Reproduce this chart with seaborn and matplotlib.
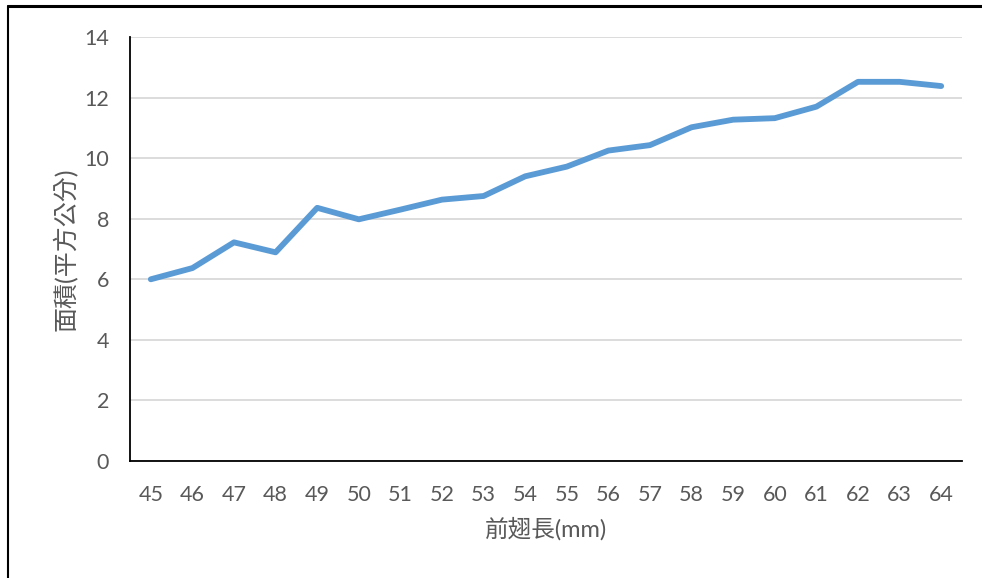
import matplotlib
matplotlib.use("Agg")
import matplotlib.pyplot as plt
from matplotlib.lines import Line2D
import seaborn as sns
import pandas as pd

# Forewing length (mm) vs. wing area
wing_length_mm = [45, 46, 47, 48, 49, 50, 51, 52, 53, 54,
                  55, 56, 57, 58, 59, 60, 61, 62, 63, 64]
wing_area = [6.00, 6.37, 7.22, 6.89, 8.36, 7.98, 8.30, 8.63, 8.75, 9.40,
             9.72, 10.25, 10.43, 11.02, 11.27, 11.32, 11.70, 12.52, 12.52, 12.38]
y_ticks = [0, 2, 4, 6, 8, 10, 12, 14]

sns.set_style("white")
plt.rcParams["font.family"] = ["Lato", "Noto Sans CJK TC", "DejaVu Sans"]

df = pd.DataFrame({"length": [str(v) for v in wing_length_mm], "area": wing_area})

fig = plt.figure(figsize=(9.82, 5.78), dpi=100)
ax = fig.add_axes([130 / 982, 1 - 461 / 578, 832 / 982, 424 / 578])

sns.lineplot(data=df, x="length", y="area", ax=ax, color="#5B9BD5",
             linewidth=4.2, sort=False)
for ln in ax.get_lines():
    ln.set_solid_capstyle("round")
    ln.set_solid_joinstyle("round")

ax.set_xlim(-0.5, len(wing_length_mm) - 0.5)
ax.set_ylim(0, 14)
ax.set_yticks(y_ticks)
ax.set_yticklabels([str(t) for t in y_ticks])
ax.yaxis.grid(True, color="#D9D9D9", linewidth=1.3)
ax.xaxis.grid(False)
ax.set_axisbelow(True)

for side in ("top", "right"):
    ax.spines[side].set_visible(False)
for side in ("left", "bottom"):
    ax.spines[side].set_color("black")
    ax.spines[side].set_linewidth(1.3)

ax.tick_params(axis="both", length=0, labelsize=15.5, labelcolor="#595959")
ax.tick_params(axis="y", pad=15)
ax.tick_params(axis="x", pad=17)

ax.set_xlabel("前翅長(mm)", fontsize=17, color="#595959", labelpad=9)
ax.set_ylabel("面積(平方公分)", fontsize=18, color="#595959", labelpad=5)

# chart frame (left and top edges)
fig.add_artist(Line2D([8 / 982, 8 / 982], [0, 1 - 6 / 578], color="black",
                      linewidth=1.5, transform=fig.transFigure))
fig.add_artist(Line2D([8 / 982, 1], [1 - 6 / 578, 1 - 6 / 578], color="black",
                      linewidth=2.2, transform=fig.transFigure))

fig.savefig("out.png", dpi=100)
